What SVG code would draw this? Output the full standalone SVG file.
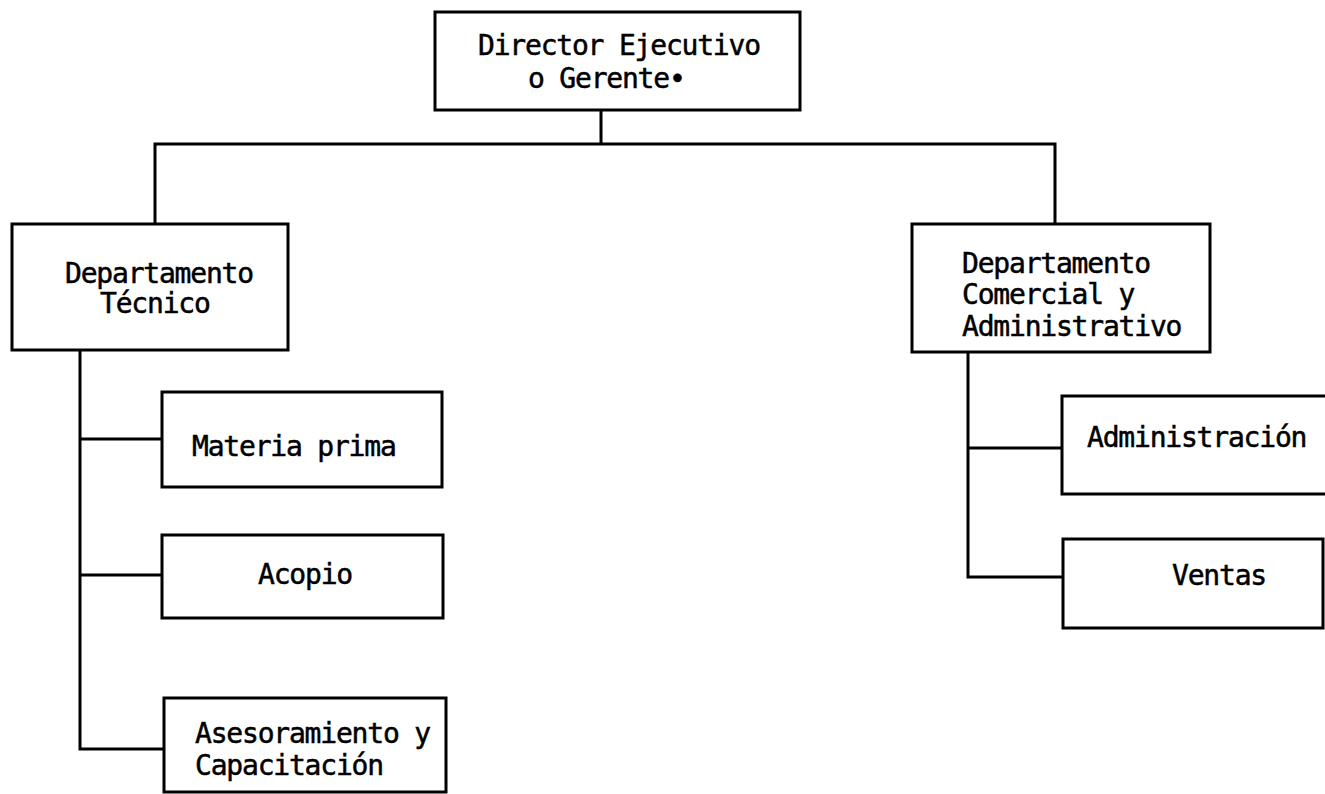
<svg xmlns="http://www.w3.org/2000/svg" width="1325" height="794" viewBox="0 0 1325 794">
<style>
.box{fill:#fff;stroke:#000;stroke-width:3}
.ln{fill:none;stroke:#000;stroke-width:3;stroke-linecap:square}
text{font-family:"DejaVu Sans Mono","Liberation Mono",monospace;font-size:28px;letter-spacing:-1.2px;fill:#000;stroke:#000;stroke-width:0.5}
</style>
<rect width="1325" height="794" fill="#fff"/>
<g id="connectors">
<path class="ln" d="M601,110 V144 M155,144 H1055 M155,144 V224 M1055,144 V224"/>
<path class="ln" d="M80,350 V749 M80,439 H162 M80,575 H162 M80,749 H164"/>
<path class="ln" d="M968,352 V577 M968,448 H1062 M968,577 H1063"/>
</g>
<g id="director">
<rect class="box" x="435" y="12" width="365" height="98"/>
<text x="478" y="55">Director Ejecutivo</text>
<text x="528" y="88">o Gerente•</text>
</g>
<g id="dep-tecnico">
<rect class="box" x="12" y="224" width="276" height="126"/>
<text x="65" y="283">Departamento</text>
<text x="100" y="313">Técnico</text>
</g>
<g id="dep-comercial">
<rect class="box" x="912" y="224" width="298" height="128"/>
<text x="962" y="273">Departamento</text>
<text x="962" y="304">Comercial y</text>
<text x="962" y="336">Administrativo</text>
</g>
<g id="materia-prima">
<rect class="box" x="162" y="392" width="280" height="95"/>
<text x="192" y="456">Materia prima</text>
</g>
<g id="acopio">
<rect class="box" x="162" y="535" width="281" height="83"/>
<text x="258" y="584">Acopio</text>
</g>
<g id="asesoramiento">
<rect class="box" x="164" y="698" width="282" height="94"/>
<text x="195" y="743">Asesoramiento y</text>
<text x="195" y="775">Capacitación</text>
</g>
<g id="administracion">
<rect class="box" x="1062" y="396" width="280" height="98"/>
<text x="1087" y="447">Administración</text>
</g>
<g id="ventas">
<rect class="box" x="1063" y="539" width="260" height="89"/>
<text x="1172" y="585">Ventas</text>
</g>
</svg>
